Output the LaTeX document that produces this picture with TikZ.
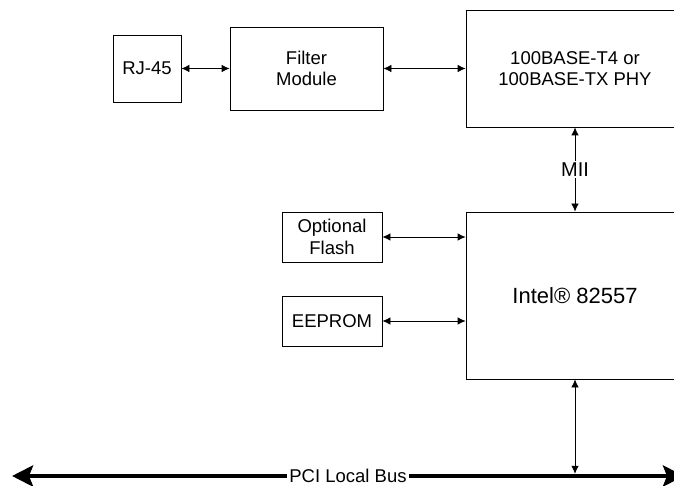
\documentclass[tikz,border=0pt]{standalone}
\usepackage{fontspec}
\setmainfont{Liberation Sans}
\usetikzlibrary{arrows.meta}

\def\busy{476}

\tikzset{
    block/.style={draw, line width=0.8pt, align=center, inner sep=0pt,
        font=\fontsize{18.5}{21.5}\selectfont},
    tag/.style={fill=white, inner sep=2pt, font=\fontsize{18.5}{21.5}\selectfont},
    link/.style={{Latex[length=8pt,width=7.5pt]}-{Latex[length=8pt,width=7.5pt]}, line width=0.8pt},
    bus/.style={{Stealth[length=21pt,width=21pt,inset=4pt]}-{Stealth[length=21pt,width=21pt,inset=4pt]}, line width=4.5pt}
}

\begin{document}
\begin{tikzpicture}[x=1pt,y=-1pt]
    \useasboundingbox (0,0) rectangle (674,486);
    \clip (0,0) rectangle (674,486);

    %% The blocks
    \node[block, minimum width=68pt, minimum height=67pt] (rj) at (147,68.5) {RJ-45};
    \node[block, minimum width=153pt, minimum height=83pt] (filter) at (306.5,68.5) {Filter\\Module};
    \node[block, minimum width=218pt, minimum height=117pt] (phy) at (575,68.5) {100BASE-T4 or\\100BASE-TX PHY};
    \node[block, minimum width=218pt, minimum height=167pt, font=\fontsize{22}{26}\selectfont] (mac) at (575,295.5) {Intel® 82557};
    \node[block, minimum width=100pt, minimum height=50pt] (flash) at (332,237) {Optional\\Flash};
    \node[block, minimum width=100pt, minimum height=50pt] (eeprom) at (332,321) {EEPROM};

    %% Links between blocks
    \draw[link] (rj) -- (filter);
    \draw[link] (filter) -- (phy);
    \draw[link] (phy) -- node[tag, font=\fontsize{20}{24}\selectfont] {MII} (mac);
    \draw[link] (flash) -- (flash -| mac.west);
    \draw[link] (eeprom) -- (eeprom -| mac.west);

    %% The bus
    \coordinate (busL) at (12,\busy);
    \coordinate (busR) at (684,\busy);
    \draw[bus] (busL) -- node[tag, inner ysep=0pt] {PCI Local Bus} (busR);
    \draw[link, shorten >=2.2pt] (mac.south) -- (mac.south |- busL);
\end{tikzpicture}
\end{document}
